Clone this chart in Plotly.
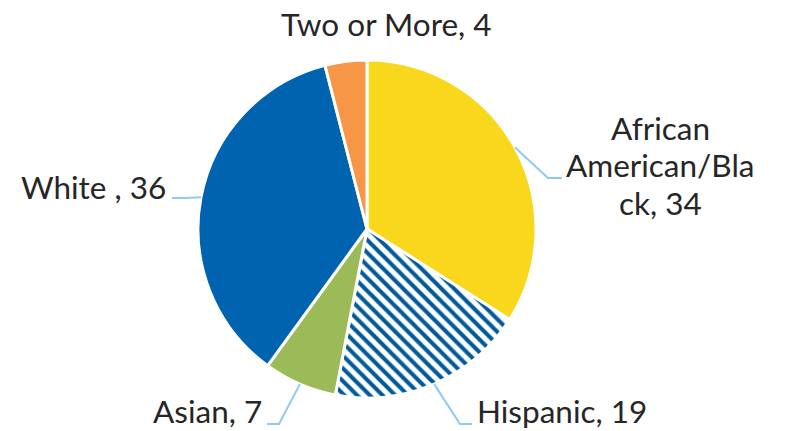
import math
import plotly.graph_objects as go

labels = ["African American/Black", "Hispanic", "Asian", "White", "Two or More"]
label_text = ["African<br>American/Bla<br>ck, 34", "Hispanic, 19", "Asian, 7", "White , 36", "Two or More, 4"]
values = [34, 19, 7, 36, 4]
colors = ["#F9D71C", "#FFFFFF", "#9BBB59", "#0063AF", "#F79646"]
patterns = ["", "\\", "", "", ""]

OFF = 8          # page body margin
FW, FH = 782, 423
CX, CY, R = 367, 229, 169   # page px
LINE_H = 37.5

# layout: label anchor (page px), elbow, end, xanchor
label_layout = [
    dict(tx=660, ty=165, xa="center", elbow=(548, 178), end=(562, 178)),
    dict(tx=475, ty=411, xa="left", elbow=(460, 424), end=(472, 424)),
    dict(tx=264, ty=411, xa="right", elbow=(279, 424), end=(267, 424)),
    dict(tx=168, ty=187, xa="right", elbow=(185, 198), end=(172, 198)),
    dict(tx=386, ty=24, xa="center", elbow=None, end=None),
]

def px(x):
    return (x - OFF) / FW

def py(y):
    return 1 - (y - OFF) / FH

fig = go.Figure(go.Pie(
    labels=labels,
    values=values,
    sort=False,
    direction="clockwise",
    rotation=0,
    textinfo="none",
    hoverinfo="label+value",
    marker=dict(
        colors=colors,
        line=dict(color="white", width=3),
        pattern=dict(shape=patterns, fgcolor="#005A9C", bgcolor="#FFFFFF", size=9, solidity=0.45),
    ),
    domain=dict(x=[px(CX - R), px(CX + R)], y=[py(CY + R), py(CY - R)]),
    showlegend=False,
))

total = sum(values)
annotations = []
shapes = []
cum = 0
for v, txt, lay in zip(values, label_text, label_layout):
    mid = (cum + v / 2) / total * 2 * math.pi
    cum += v
    sx = CX + R * math.sin(mid)
    sy = CY - R * math.cos(mid)
    lines = txt.split("<br>")
    n = len(lines)
    for i, line in enumerate(lines):
        ly = lay["ty"] + (i - (n - 1) / 2) * LINE_H
        annotations.append(dict(
            x=px(lay["tx"]), y=py(ly), xref="paper", yref="paper",
            text=line, showarrow=False, xanchor=lay["xa"], yanchor="middle",
            font=dict(family="Lato", size=31.5, color="#262626"), align="center",
        ))
    if lay["elbow"] is not None:
        ex, ey = lay["elbow"]
        fx, fy = lay["end"]
        shapes.append(dict(type="path", xref="paper", yref="paper",
                           path=f"M {px(sx)} {py(sy)} L {px(ex)} {py(ey)} L {px(fx)} {py(fy)}",
                           line=dict(color="#8ECAF6", width=2)))

fig.update_layout(
    width=FW, height=FH,
    margin=dict(l=0, r=0, t=0, b=0),
    paper_bgcolor="white", plot_bgcolor="white",
    annotations=annotations, shapes=shapes,
)
fig.write_html("out.html")
